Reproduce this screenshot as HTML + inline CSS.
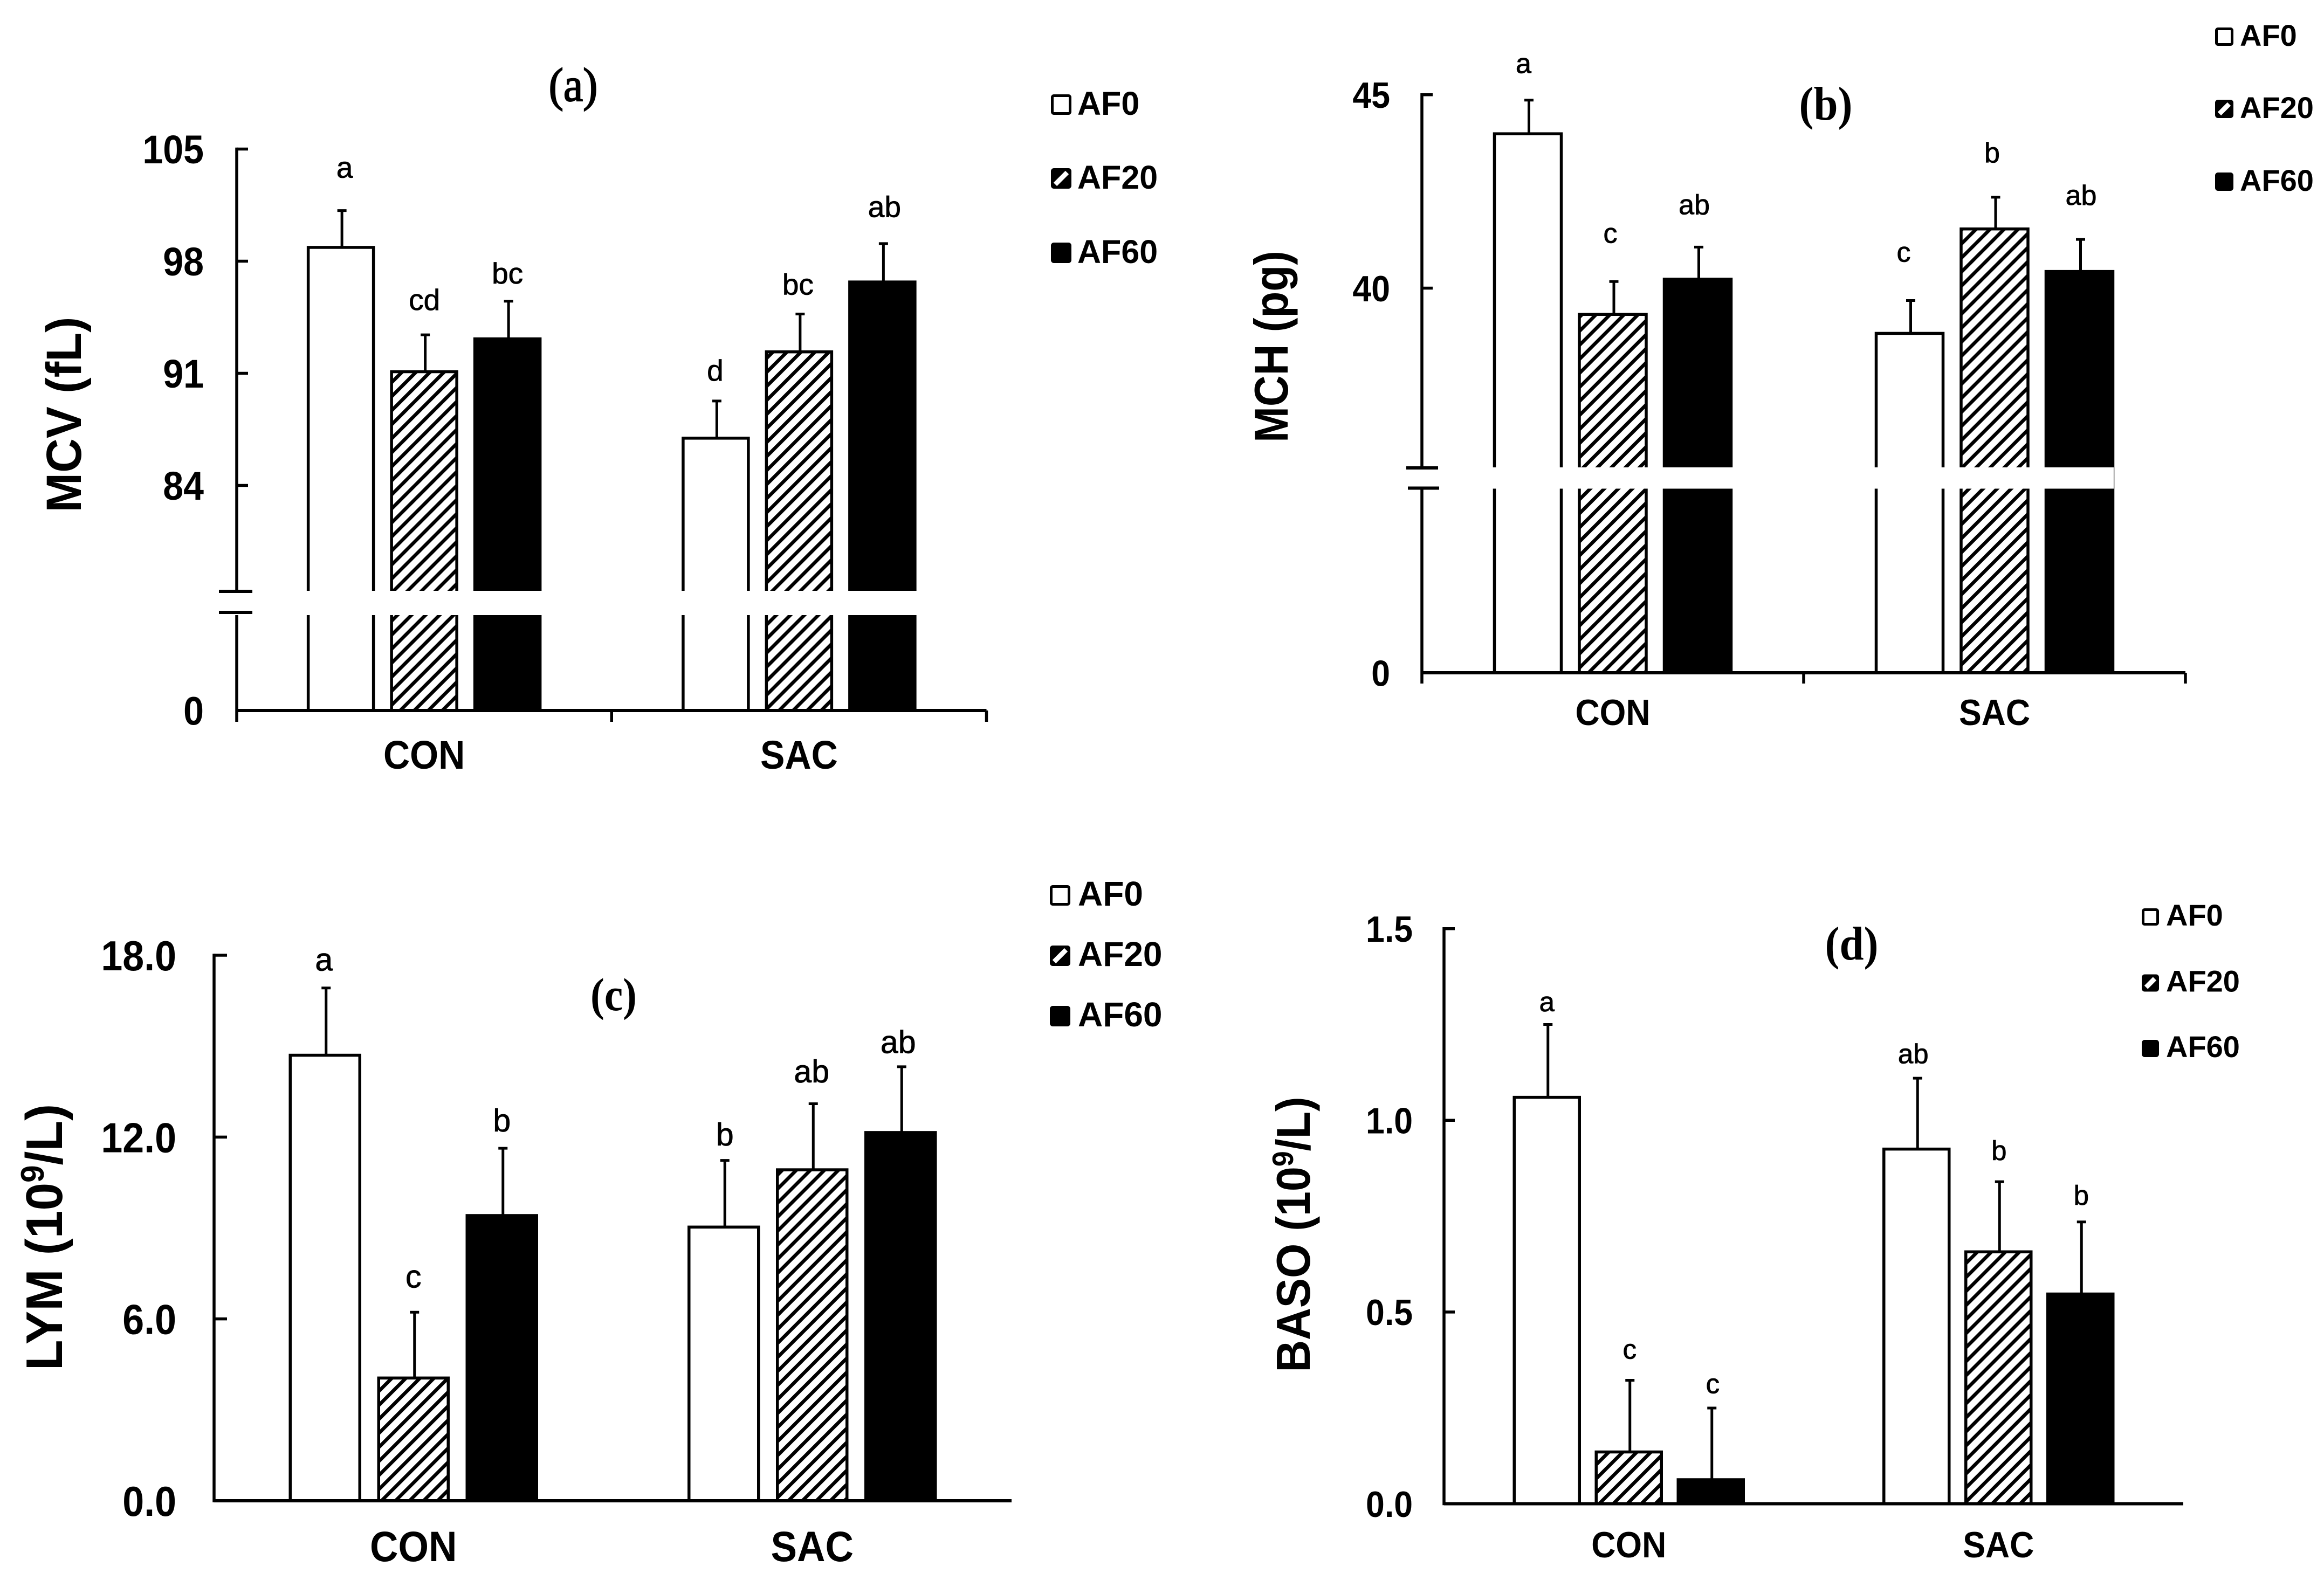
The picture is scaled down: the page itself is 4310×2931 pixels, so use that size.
<!DOCTYPE html>
<html lang="en">
<head>
<meta charset="utf-8">
<title>Hematology bar charts</title>
<style>
html,body{margin:0;padding:0;background:#fff;}
svg{display:block;}
text{font-family:"Liberation Sans",Arial,sans-serif;fill:#000;}
.panel-tag{font-family:"Liberation Serif","Times New Roman",serif;}
</style>
</head>
<body>
<svg id="figure" xmlns="http://www.w3.org/2000/svg" width="4310" height="2931" viewBox="0 0 4310 2931">
  <defs>
    <pattern id="hatch" width="18.4" height="18.4" patternUnits="userSpaceOnUse" patternTransform="rotate(45)">
      <rect width="18.4" height="18.4" fill="#fff"></rect>
      <rect width="6.5" height="18.4" fill="#000"></rect>
    </pattern>
  </defs>
  <rect width="4310" height="2931" fill="#fff"></rect>

  <g id="panel-a"></g>
  <g id="panel-b"></g>
  <g id="panel-c"></g>
  <g id="panel-d"></g>

  <text class="panel-tag" transform="translate(1063,187) scale(.93,1)" text-anchor="middle" font-size="88" stroke="#000" stroke-width="2">(a)</text>
  <text class="panel-tag" transform="translate(3386,222) scale(.92,1)" text-anchor="middle" font-size="88" font-weight="bold">(b)</text>
  <text class="panel-tag" transform="translate(1138,1874) scale(.9,1)" text-anchor="middle" font-size="86" font-weight="bold">(c)</text>
  <text class="panel-tag" transform="translate(3434,1780) scale(.92,1)" text-anchor="middle" font-size="88" font-weight="bold">(d)</text>

  <text transform="translate(150,769) rotate(-90) scale(.96,1)" text-anchor="middle" font-size="92" font-weight="bold">MCV (fL)</text>
  <text transform="translate(2388,643) rotate(-90) scale(.91,1)" text-anchor="middle" font-size="88" font-weight="bold">MCH (pg)</text>
  <text transform="translate(115,2295) rotate(-90) scale(.97,1)" text-anchor="middle" font-size="96" font-weight="bold">LYM (10<tspan dy="-34" font-size="60">9</tspan><tspan dy="34">/L)</tspan></text>
  <text transform="translate(2429,2290) rotate(-90) scale(.94,1)" text-anchor="middle" font-size="88" font-weight="bold">BASO (10<tspan dy="-31" font-size="55">9</tspan><tspan dy="31">/L)</tspan></text>
</svg>

<script>
// ---- shared categories ----
const categories = ['CON', 'SAC'];
const seriesNames = ['AF0', 'AF20', 'AF60'];

// ---- (a) MCV ----
const mcvTicks = [0, 84, 91, 98, 105];
const mcvAF0 = [98.86, 86.95];
const mcvAF20 = [91.1, 92.34];
const mcvAF60 = [93.15, 96.7];
const mcvErrAF0 = [2.3, 2.32];
const mcvErrAF20 = [2.3, 2.36];
const mcvErrAF60 = [2.35, 2.4];
const mcvLetters = [['a', 'd'], ['cd', 'bc'], ['bc', 'ab']];

// ---- (b) MCH ----
const mchTicks = [0, 40, 45];
const mchAF0 = [43.99, 38.83];
const mchAF20 = [39.32, 41.53];
const mchAF60 = [40.23, 40.43];
const mchErrAF0 = [0.87, 0.85];
const mchErrAF20 = [0.85, 0.82];
const mchErrAF60 = [0.83, 0.83];
const mchLetters = [['a', 'c'], ['c', 'b'], ['ab', 'ab']];

// ---- (c) LYM ----
const lymTicks = ['0.0', '6.0', '12.0', '18.0'];
const lymAF0 = [14.7, 9.03];
const lymAF20 = [4.05, 10.92];
const lymAF60 = [9.41, 12.15];
const lymErrAF0 = [2.22, 2.2];
const lymErrAF20 = [2.17, 2.18];
const lymErrAF60 = [2.22, 2.17];
const lymLetters = [['a', 'b'], ['c', 'ab'], ['b', 'ab']];

// ---- (d) BASO ----
const basoTicks = ['0.0', '0.5', '1.0', '1.5'];
const basoAF0 = [1.06, 0.925];
const basoAF20 = [0.135, 0.657];
const basoAF60 = [0.0626, 0.547];
const basoErrAF0 = [0.19, 0.185];
const basoErrAF20 = [0.187, 0.183];
const basoErrAF60 = [0.187, 0.188];
const basoLetters = [['a', 'ab'], ['c', 'b'], ['c', 'b']];

// ---- layout per panel (geometry only) ----
const panels = [
  { id: 'panel-a', key: 'mcv',
    means: [mcvAF0, mcvAF20, mcvAF60], errs: [mcvErrAF0, mcvErrAF20, mcvErrAF60], letters: mcvLetters, ticks: mcvTicks,
    domain: [0, 84, 105], range: [1318, 900.5, 276.5],
    x0: 439, x1: 1829.5, step: 154.5, barW: 121, tickLen: 21, downTicks: 21,
    brk: { upper: 1097, lower: 1136, resume: 1141, gapTop: 1096, gapBot: 1141, t0: 406, t1: 468, tl0: 406, tl1: 468, endX: 1710 },
    fs: 74, labelRight: 378, xFs: 74, xBase: 1426, letterFs: 55,
    letterGap: [[61, 38], [46, 36], [33, 49.5]], letterDx: [[7, -1], [0.5, -2], [0, 4]],
    legend: { sx: 1949, sw: 38, tx: 1998, fs: 61, base: [213, 350, 488] } },
  { id: 'panel-b', key: 'mch',
    means: [mchAF0, mchAF20, mchAF60], errs: [mchErrAF0, mchErrAF20, mchErrAF60], letters: mchLetters, ticks: mchTicks,
    domain: [0, 36, 45], range: [1248, 821.5, 175.7],
    x0: 2637, x1: 4053, step: 157.5, barW: 124, tickLen: 20, downTicks: 20,
    brk: { upper: 868, lower: 905.5, resume: 905.5, gapTop: 867, gapBot: 906.5, t0: 2608, t1: 2667, tl0: 2611, tl1: 2669, endX: 3920 },
    fs: 68, labelRight: 2578, xFs: 68, xBase: 1345, letterFs: 52,
    letterGap: [[50, 72], [72, 65], [61, 64]], letterDx: [[-8, -11], [-4.5, -4.5], [-6.5, 3]],
    legend: { sx: 4108, sw: 34, tx: 4154, fs: 56, base: [85, 219, 354] } },
  { id: 'panel-c', key: 'lym',
    means: [lymAF0, lymAF20, lymAF60], errs: [lymErrAF0, lymErrAF20, lymErrAF60], letters: lymLetters, ticks: lymTicks,
    domain: [0, 18], range: [2784, 1772],
    x0: 397, x1: 1876, step: 164, barW: 129, tickLen: 24, downTicks: 0, brk: null,
    fs: 78, labelRight: 327, xFs: 79, xBase: 2896, letterFs: 59,
    letterGap: [[32, 27.5], [46, 39.6], [31, 25.4]], letterDx: [[-2, 2], [0, -1], [0, -4.5]],
    legend: { sx: 1947, sw: 38, tx: 1999, fs: 64, base: [1680, 1792, 1904] } },
  { id: 'panel-d', key: 'baso',
    means: [basoAF0, basoAF20, basoAF60], errs: [basoErrAF0, basoErrAF20, basoErrAF60], letters: basoLetters, ticks: basoTicks,
    domain: [0, 1.5], range: [2789.5, 1722.7],
    x0: 2678, x1: 4049, step: 152, barW: 121, tickLen: 20, downTicks: 0, brk: null,
    fs: 68, labelRight: 2620, xFs: 68, xBase: 2889, letterFs: 51,
    letterGap: [[24.6, 27.4], [40, 40], [27.5, 32]], letterDx: [[0, -6], [1.5, 1], [3.6, 1.5]],
    legend: { sx: 3972, sw: 32, tx: 4017, fs: 56, base: [1717, 1839.5, 1961] } }
];

const SVGNS = 'http://www.w3.org/2000/svg';
const LINE = 5.5;

function add(parent, tag, geom) {
  const el = document.createElementNS(SVGNS, tag);
  for (const k in geom) el.setAttribute(k, geom[k]);
  parent.appendChild(el);
  return el;
}
function seg(parent, x1, y1, x2, y2, w) {
  return add(parent, 'line', { x1: x1, y1: y1, x2: x2, y2: y2, stroke: '#000', 'stroke-width': w || LINE });
}

function drawPanel(p) {
  const g = document.getElementById(p.id);

  // axis functions
  const yScale = function (v) {
    const d = p.domain, r = p.range;
    let i = 0;
    while (i < d.length - 2 && v > d[i + 1]) i++;
    return r[i] + (v - d[i]) * (r[i + 1] - r[i]) / (d[i + 1] - d[i]);
  };
  const band = (p.x1 - p.x0) / categories.length;
  const xCenter = function (c, s) { return p.x0 + (c + 0.5) * band + (s - 1) * p.step; };
  const baseY = yScale(p.domain[0]);

  // bars, error bars and significance letters
  seriesNames.forEach(function (name, s) {
    categories.forEach(function (cat, c) {
      const v = p.means[s][c];
      const e = p.errs[s][c];
      const cx = xCenter(c, s);
      const top = yScale(v);
      const errTop = yScale(v + e);

      const stem = seg(g, cx + 2, top, cx + 2, errTop, 5);
      
      

      const cap = seg(g, cx - 6.5, errTop, cx + 10.5, errTop, 5);
      
      

      const bar = add(g, 'rect', {
        x: cx - p.barW / 2, y: top, width: p.barW, height: baseY - top,
        fill: s === 0 ? '#fff' : (s === 1 ? 'url(#hatch)' : '#000'),
        stroke: '#000', 'stroke-width': LINE
      });
      
      

      const letter = add(g, 'text', {
        x: cx + p.letterDx[s][c], y: errTop - p.letterGap[s][c],
        'text-anchor': 'middle', 'font-size': p.letterFs, stroke: '#000', 'stroke-width': 0.8
      });
      letter.textContent = p.letters[s][c];
      
      
    });
  });

  // axis break overlay
  const axisBottom = baseY + p.downTicks;
  if (p.brk) {
    const gap = add(g, 'rect', {
      x: p.x0 + 40, y: p.brk.gapTop, width: p.brk.endX - p.x0 - 40, height: p.brk.gapBot - p.brk.gapTop, fill: '#fff'
    });
    
    

    const upperAxis = seg(g, p.x0, p.range[2] - 2.75, p.x0, p.brk.upper);
    
    

    const lowerAxis = seg(g, p.x0, p.brk.resume, p.x0, axisBottom);
    
    

    const breakTop = seg(g, p.brk.t0, p.brk.upper, p.brk.t1, p.brk.upper, 6);
    
    

    const breakBottom = seg(g, p.brk.tl0, p.brk.lower, p.brk.tl1, p.brk.lower, 6);
    
    
  } else {
    const yAxis = seg(g, p.x0, p.range[p.range.length - 1] - 2.75, p.x0, baseY + 2.75);
    
    
  }

  const xAxis = seg(g, p.x0, baseY, p.x1, baseY, 6);
  
  

  // category ticks and labels
  if (p.downTicks) {
    for (let i = 0; i <= categories.length; i++) {
      const tx = p.x0 + i * band;
      if (i > 0) {
        const xt = seg(g, tx, baseY, tx, axisBottom);
        
        
      }
    }
  }
  categories.forEach(function (cat, c) {
    const lab = add(g, 'text', {
      transform: 'translate(' + xCenter(c, 1) + ',' + p.xBase + ') scale(.92,1)',
      'text-anchor': 'middle', 'font-size': p.xFs, 'font-weight': 'bold'
    });
    lab.textContent = cat;
    
    
  });

  // value ticks and labels
  p.ticks.forEach(function (t) {
    const ty = yScale(Number(t));
    if (Number(t) !== p.domain[0]) {
      const tick = seg(g, p.x0, ty, p.x0 + p.tickLen, ty);
      
      
    }
    const lab = add(g, 'text', {
      transform: 'translate(' + p.labelRight + ',' + (ty + p.fs * 0.358) + ') scale(.92,1)',
      'text-anchor': 'end', 'font-size': p.fs, 'font-weight': 'bold'
    });
    lab.textContent = String(t);
    
    
  });

  // legend
  seriesNames.forEach(function (name, s) {
    const L = p.legend;
    const sy = L.base[s] - L.sw;
    const sw = add(g, 'rect', {
      x: L.sx + 2.5, y: sy + 2.5, width: L.sw - 5, height: L.sw - 5, rx: 3,
      fill: s === 0 ? '#fff' : '#000', stroke: '#000', 'stroke-width': 5
    });
    
    

    if (s === 1) {
      const slash = seg(g, L.sx + 8, L.base[s] - 8, L.sx + L.sw - 8, sy + 8, 9);
      slash.setAttribute('stroke', '#fff');
      
      
    }

    const lt = add(g, 'text', { x: L.tx, y: L.base[s], 'font-size': L.fs, 'font-weight': 'bold' });
    lt.textContent = name;
    
    
  });
}

panels.forEach(drawPanel);
</script>
</body>
</html>
